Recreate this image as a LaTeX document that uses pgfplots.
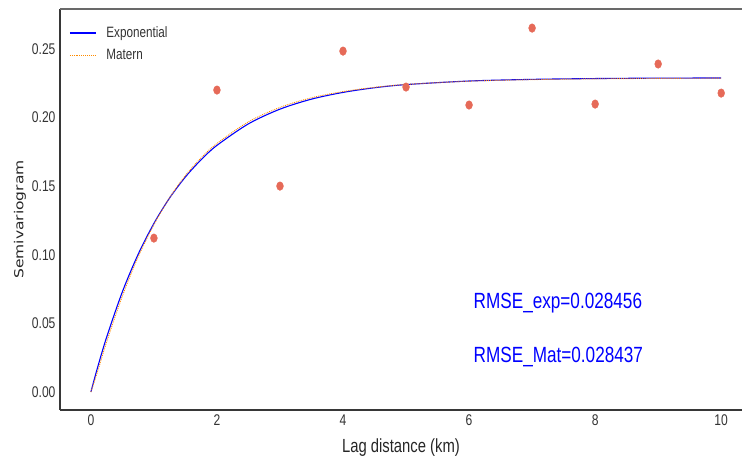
\documentclass[border=0pt]{standalone}
\usepackage{fontspec}
\setmainfont{Liberation Sans}[FakeStretch=0.78]
\newfontfamily\dejavu{DejaVu Sans}
\usepackage{graphicx}
\usepackage{pgfplots}
\pgfplotsset{compat=1.18}
\pgfplotsset{longline/.style={legend image code/.code={\draw[##1] (0pt,0pt) -- (26pt,0pt); \path (34pt,0pt);}}}
\definecolor{pt}{RGB}{230,106,88}
\definecolor{spine}{RGB}{55,55,55}
\definecolor{morange}{RGB}{255,140,0}
\begin{document}
\begin{tikzpicture}
\begin{axis}[
  scale only axis,
  width=682pt, height=401pt,
  xmin=-0.49, xmax=10.33,
  ymin=-0.0131, ymax=0.2792,
  axis x line*=bottom,
  axis y line*=left,
  axis line style={line width=1.8pt, spine},
  separate axis lines,
  major tick length=0pt,
  xtick={0,2,4,6,8,10},
  ytick={0,0.05,0.1,0.15,0.2,0.25},
  yticklabel style={/pgf/number format/fixed, /pgf/number format/fixed zerofill, /pgf/number format/precision=2},
  /pgf/number format/assume math mode=true,
  tick label style={font=\fontsize{15.5}{17}\selectfont, text=black!80},
  xticklabel style={yshift=-1pt},
  yticklabel style={xshift=-1pt},
  xlabel={Lag distance (km)},
  ylabel={\scalebox{1}[0.8]{\dejavu Semivariogram}},
  xlabel style={font=\fontsize{19}{21}\selectfont, text=black!85, yshift=-6pt},
  ylabel style={font=\fontsize{15.5}{17}\selectfont, text=black!85, yshift=-1pt, xshift=-10pt},
  legend style={draw=none, fill=none, at={(0.009,0.966)}, anchor=north west,
    font=\fontsize{15}{17}\selectfont, text=black!80, row sep=6pt},
  legend cell align=left,
  clip=false,
]
\addplot[blue, line width=1.1pt, smooth, longline] coordinates {
(0,0) (0.1,0.0169) (0.25,0.0400) (0.5,0.0731) (0.75,0.1004) (1,0.1229)
(1.25,0.1415) (1.5,0.1568) (1.75,0.1694) (2,0.1798) (2.5,0.1955) (3,0.2062)
(3.5,0.2135) (4,0.2184) (4.5,0.2218) (5,0.2241) (6,0.2267) (7,0.2279)
(8,0.2285) (9,0.2288) (10,0.2289)};
\addlegendentry{Exponential}
\addplot[morange, line width=0.9pt, densely dotted, smooth, longline] coordinates {
(0,0) (0.1,0.0140) (0.25,0.0365) (0.5,0.0700) (0.75,0.0985) (1,0.1220)
(1.25,0.1418) (1.5,0.1578) (1.75,0.1708) (2,0.1812) (2.5,0.1970) (3,0.2075)
(3.5,0.2145) (4,0.2190) (4.5,0.2221) (5,0.2242) (6,0.2266) (7,0.2277)
(8,0.2283) (9,0.2286) (10,0.2288)};
\addlegendentry{Matern}
\addplot[only marks, mark=*, mark size=4.3pt, mark options={fill=pt, draw=pt, xscale=0.8}] coordinates {
(1,0.1122) (2,0.2201) (3,0.1501) (4,0.2485) (5,0.2223)
(6,0.2092) (7,0.2653) (8,0.2099) (9,0.2391) (10,0.2179)};
\node[anchor=west, blue, font=\fontsize{22}{24}\selectfont, inner sep=0pt] at (axis cs:6.07,0.0645) {RMSE\_exp=0.028456};
\node[anchor=west, blue, font=\fontsize{22}{24}\selectfont, inner sep=0pt] at (axis cs:6.07,0.0252) {RMSE\_Mat=0.028437};
\draw[line width=1.8pt, spine!75] (rel axis cs:0,1) -- (rel axis cs:1,1);
\coordinate (ll) at (rel axis cs:0,0);
\coordinate (ur) at (rel axis cs:1,1);
\end{axis}
\pgfresetboundingbox
\useasboundingbox ([shift={(-60pt,-53pt)}]ll) rectangle ([shift={(0pt,9pt)}]ur);
\end{tikzpicture}
\end{document}
